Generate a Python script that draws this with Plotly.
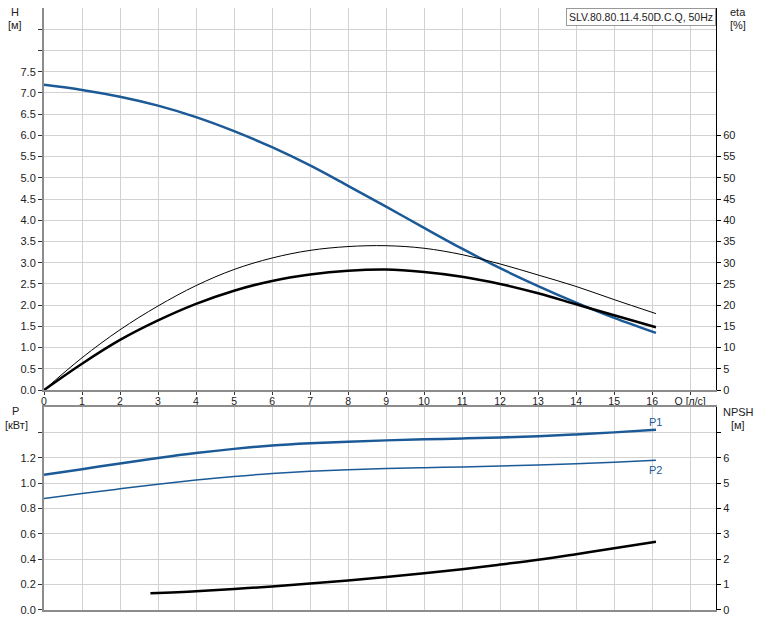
import plotly.graph_objects as go

# flow rate Q [l/s] for the head / efficiency / power curves
q = [0, 1, 2, 3, 4, 5, 6, 7, 8, 9, 10, 11, 12, 13, 14, 15, 16.1]
head = [7.19, 7.07, 6.91, 6.70, 6.43, 6.10, 5.72, 5.29, 4.81, 4.32,
        3.82, 3.33, 2.87, 2.45, 2.06, 1.70, 1.345]
eta_thin = [0, 7.6, 14.2, 19.8, 24.6, 28.4, 31.1, 32.9, 33.8, 34.0,
            33.4, 31.9, 29.7, 27.1, 24.4, 21.3, 18.0]
eta_thick = [0, 6.2, 11.8, 16.4, 20.3, 23.4, 25.7, 27.2, 28.1, 28.4,
             27.8, 26.7, 25.0, 22.8, 20.2, 17.6, 14.8]
p1 = [1.066, 1.11, 1.155, 1.198, 1.237, 1.270, 1.296, 1.314, 1.327, 1.337,
      1.345, 1.352, 1.36, 1.37, 1.384, 1.40, 1.421]
p2 = [0.879, 0.918, 0.955, 0.991, 1.024, 1.053, 1.076, 1.094, 1.106, 1.115,
      1.122, 1.128, 1.135, 1.143, 1.153, 1.165, 1.18]

q_npsh = [2.8, 4, 5, 6, 7, 8, 9, 10, 11, 12, 13, 14, 15, 16.1]
npsh = [0.66, 0.74, 0.83, 0.93, 1.04, 1.16, 1.30, 1.45, 1.61, 1.79,
        1.98, 2.20, 2.43, 2.69]

x_ticks = list(range(18))
x_labels = [str(i) for i in range(17)] + ["Q [л/с]"]
h_ticks = [i * 0.5 for i in range(18)]
h_labels = [f"{v:.1f}" if v <= 7.5 else "" for v in h_ticks]
eta_ticks = list(range(0, 65, 5))
p_ticks = [0, 0.2, 0.4, 0.6, 0.8, 1.0, 1.2, 1.4]
p_labels = ["0.0", "0.2", "0.4", "0.6", "0.8", "1.0", "1.2", ""]
npsh_ticks = list(range(8))
npsh_labels = [str(i) for i in range(7)] + [""]

BLUE = "#1b5a96"
GRID = "#d2d2d2"
AXG = "#8c8c8c"
FONT = "Liberation Sans, Arial, sans-serif"

fig = go.Figure()
spl = dict(shape="spline", smoothing=1.0)
fig.add_trace(go.Scatter(x=q, y=eta_thin, xaxis="x", yaxis="y2", mode="lines",
                         line=dict(color="black", width=1, **spl)))
fig.add_trace(go.Scatter(x=q, y=eta_thick, xaxis="x", yaxis="y2", mode="lines",
                         line=dict(color="black", width=2.5, **spl)))
fig.add_trace(go.Scatter(x=q, y=head, xaxis="x", yaxis="y", mode="lines",
                         line=dict(color=BLUE, width=2.5, **spl)))
fig.add_trace(go.Scatter(x=q, y=p1, xaxis="x2", yaxis="y3", mode="lines",
                         line=dict(color=BLUE, width=2.5, **spl)))
fig.add_trace(go.Scatter(x=q, y=p2, xaxis="x2", yaxis="y3", mode="lines",
                         line=dict(color=BLUE, width=1.5, **spl)))
fig.add_trace(go.Scatter(x=q_npsh, y=npsh, xaxis="x2", yaxis="y4", mode="lines",
                         line=dict(color="black", width=2.5, **spl)))

tickfont = dict(family=FONT, size=11, color="#222")
common_x = dict(range=[0, 17.68], tickvals=x_ticks, showgrid=True, gridcolor=GRID,
                gridwidth=1, zeroline=False, showline=True, linecolor=AXG, linewidth=2,
                ticks="outside", ticklen=3, tickcolor="#333",
                tickfont=dict(family=FONT, size=10.5, color="#222"),
                automargin=False)
left_y = dict(showgrid=True, gridcolor=GRID, zeroline=False, showline=True,
              linecolor=AXG, linewidth=2, ticks="outside", ticklen=4,
              tickcolor="#333", tickfont=tickfont, automargin=False)
right_y = dict(side="right", showgrid=False, zeroline=False, showline=True,
               linecolor="black", linewidth=1, ticks="outside", ticklen=4,
               tickcolor="black", tickfont=tickfont, automargin=False)

fig.update_layout(
    width=762, height=620,
    margin=dict(l=44, r=46, t=8, b=10),
    paper_bgcolor="white", plot_bgcolor="white",
    showlegend=False,
    font=dict(family=FONT, size=11, color="#222"),
    xaxis=dict(common_x, anchor="y", ticktext=x_labels, ticklabelstandoff=-3),
    xaxis2=dict(common_x, anchor="y3", showticklabels=False, mirror=True, ticks=""),
    yaxis=dict(left_y, domain=[0.3654, 1], range=[0, 9],
               tickvals=h_ticks, ticktext=h_labels),
    yaxis2=dict(right_y, overlaying="y", anchor="x", range=[0, 90], tickvals=eta_ticks),
    yaxis3=dict(left_y, domain=[0, 0.3372], range=[0, 1.6], anchor="x2",
                tickvals=p_ticks, ticktext=p_labels),
    yaxis4=dict(right_y, overlaying="y3", anchor="x2", range=[0, 8],
                tickvals=npsh_ticks, ticktext=npsh_labels),
)

# axis titles (two lines each, placed in the margins)
lab = dict(showarrow=False, font=dict(family=FONT, size=11, color="#222"))
for text, xp, yp in [
    ("H", 15, 12), ("[м]", 15, 25),
    ("eta", 738, 12), ("[%]", 738, 25),
    ("P", 15, 411), ("[кВт]", 17, 425),
    ("NPSH", 738, 412), ("[м]", 738, 425),
]:
    fig.add_annotation(x=(xp - 44) / 672, y=(610 - yp) / 602, xref="paper", yref="paper",
                       text=text, xanchor="center", yanchor="middle", **lab)

fig.add_annotation(x=1, y=1, xref="paper", yref="paper", xanchor="right", yanchor="top",
                   text="SLV.80.80.11.4.50D.C.Q, 50Hz", showarrow=False,
                   bordercolor="#999", borderwidth=1, borderpad=2, bgcolor="white",
                   font=dict(family=FONT, size=10.5, color="#222"))
fig.add_annotation(x=16.1, y=p1[-1], xref="x2", yref="y3", text="P1", showarrow=False,
                   yshift=8, font=dict(family=FONT, size=11, color=BLUE))
fig.add_annotation(x=16.1, y=p2[-1], xref="x2", yref="y3", text="P2", showarrow=False,
                   yshift=-10, font=dict(family=FONT, size=11, color=BLUE))

fig.write_html("out.html", config={"displayModeBar": False},
               post_script="document.body.style.margin='0';")
